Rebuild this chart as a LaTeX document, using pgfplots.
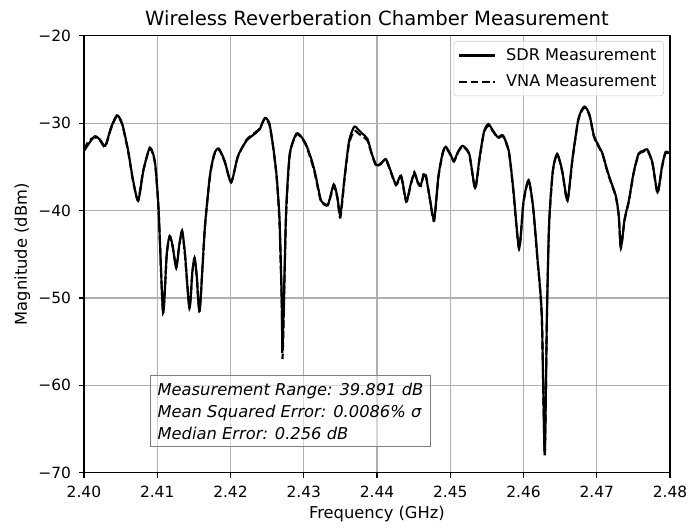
\documentclass[border=0pt]{standalone}
\usepackage{fontspec}
\setmainfont{DejaVu Sans}
\usepackage{pgfplots}
\usepackage{pgfplotstable}
\pgfplotsset{compat=1.18}

% Received power vs frequency, SDR sweep
\pgfplotstableread{
f y
2.4000 -33.2
2.4007 -32.3
2.4015 -31.5
2.4022 -31.9
2.4029 -32.6
2.4037 -30.5
2.4045 -29.1
2.4052 -30.0
2.4060 -33.0
2.4067 -36.5
2.4074 -38.9
2.4081 -35.5
2.4090 -32.8
2.4097 -34.5
2.4102 -40.0
2.4108 -51.7
2.4113 -45.0
2.4117 -42.9
2.4121 -44.0
2.4126 -46.6
2.4130 -44.0
2.4134 -42.3
2.4138 -45.0
2.4144 -51.2
2.4148 -47.0
2.4151 -45.4
2.4154 -47.5
2.4158 -51.5
2.4165 -42.0
2.4172 -36.0
2.4178 -33.5
2.4184 -32.9
2.4192 -34.3
2.4201 -36.8
2.4210 -33.8
2.4222 -32.0
2.4235 -31.1
2.4240 -30.7
2.4247 -29.4
2.4253 -30.0
2.4258 -32.5
2.4263 -36.0
2.4267 -41.0
2.4270 -50.0
2.4271 -56.0
2.4273 -50.0
2.4276 -40.0
2.4281 -33.5
2.4290 -31.2
2.4297 -31.6
2.4303 -32.4
2.4310 -34.0
2.4315 -35.5
2.4320 -37.5
2.4324 -38.9
2.4333 -39.3
2.4341 -37.0
2.4346 -38.5
2.4350 -40.5
2.4356 -36.0
2.4362 -32.0
2.4369 -30.4
2.4375 -30.8
2.4380 -31.2
2.4387 -31.8
2.4393 -33.5
2.4399 -34.8
2.4405 -34.7
2.4412 -34.1
2.4418 -35.3
2.4426 -37.0
2.4433 -36.0
2.4440 -38.9
2.4446 -37.0
2.4451 -35.8
2.4456 -36.8
2.4460 -37.0
2.4464 -35.9
2.4467 -36.2
2.4472 -38.5
2.4478 -41.0
2.4484 -36.0
2.4490 -33.3
2.4494 -32.7
2.4500 -33.5
2.4505 -34.3
2.4511 -33.2
2.4517 -32.6
2.4526 -33.5
2.4534 -37.4
2.4540 -34.0
2.4546 -31.0
2.4552 -30.1
2.4558 -30.8
2.4565 -31.6
2.4572 -31.4
2.4580 -33.2
2.4586 -37.5
2.4594 -44.3
2.4600 -39.0
2.4607 -36.5
2.4613 -39.5
2.4619 -45.4
2.4625 -52.0
2.4629 -67.9
2.4632 -52.0
2.4635 -41.5
2.4640 -35.5
2.4646 -33.5
2.4653 -35.5
2.4660 -38.8
2.4667 -34.0
2.4675 -29.5
2.4683 -28.1
2.4690 -29.0
2.4696 -31.4
2.4702 -32.5
2.4708 -33.5
2.4714 -35.3
2.4719 -36.6
2.4726 -38.3
2.4730 -40.5
2.4733 -44.2
2.4738 -41.0
2.4744 -38.8
2.4750 -35.8
2.4757 -33.5
2.4763 -33.2
2.4769 -33.0
2.4776 -34.5
2.4783 -37.9
2.4789 -35.0
2.4794 -33.3
2.4800 -33.5
}\sdrdata

% Same sweep taken with the vector network analyser
\pgfplotstableread{
f y
2.4000 -33.0
2.4007 -32.0
2.4015 -31.6
2.4022 -32.0
2.4029 -32.7
2.4037 -30.6
2.4045 -29.2
2.4052 -30.1
2.4060 -33.1
2.4067 -36.6
2.4074 -38.8
2.4081 -35.4
2.4090 -32.9
2.4097 -34.6
2.4102 -40.2
2.4108 -51.5
2.4113 -45.1
2.4117 -43.0
2.4121 -44.1
2.4126 -46.4
2.4130 -44.1
2.4134 -42.4
2.4138 -45.2
2.4144 -51.0
2.4148 -47.1
2.4151 -45.5
2.4154 -47.6
2.4158 -51.3
2.4165 -42.1
2.4172 -36.1
2.4178 -33.6
2.4184 -33.0
2.4192 -34.4
2.4201 -36.7
2.4210 -33.9
2.4222 -31.9
2.4235 -31.0
2.4240 -30.6
2.4247 -29.5
2.4253 -30.1
2.4258 -32.6
2.4263 -36.2
2.4267 -41.5
2.4270 -51.0
2.4271 -57.0
2.4273 -51.0
2.4276 -40.5
2.4281 -33.6
2.4290 -31.3
2.4297 -31.7
2.4303 -32.5
2.4310 -34.2
2.4315 -35.7
2.4320 -37.7
2.4324 -39.0
2.4333 -39.4
2.4341 -37.2
2.4346 -38.6
2.4350 -40.8
2.4356 -36.2
2.4362 -32.3
2.4369 -30.9
2.4375 -31.2
2.4380 -31.5
2.4387 -32.0
2.4393 -33.6
2.4399 -34.9
2.4405 -34.6
2.4412 -34.2
2.4418 -35.4
2.4426 -37.1
2.4433 -36.2
2.4440 -39.0
2.4446 -37.1
2.4451 -35.6
2.4456 -36.9
2.4460 -37.2
2.4464 -35.7
2.4467 -36.0
2.4472 -38.6
2.4478 -41.2
2.4484 -36.1
2.4490 -33.4
2.4494 -32.8
2.4500 -33.6
2.4505 -34.4
2.4511 -33.3
2.4517 -32.7
2.4526 -33.6
2.4534 -37.5
2.4540 -34.1
2.4546 -31.1
2.4552 -30.3
2.4558 -30.9
2.4565 -31.7
2.4572 -31.5
2.4580 -33.3
2.4586 -37.6
2.4594 -44.4
2.4600 -39.1
2.4607 -36.6
2.4613 -39.6
2.4619 -45.5
2.4625 -52.2
2.4629 -68.0
2.4632 -52.2
2.4635 -41.6
2.4640 -35.6
2.4646 -33.6
2.4653 -35.6
2.4660 -38.9
2.4667 -34.1
2.4675 -29.6
2.4683 -28.2
2.4690 -29.1
2.4696 -31.5
2.4702 -32.6
2.4708 -33.6
2.4714 -35.4
2.4719 -36.7
2.4726 -38.4
2.4730 -40.6
2.4733 -44.3
2.4738 -41.1
2.4744 -38.9
2.4750 -35.9
2.4757 -33.6
2.4763 -33.3
2.4769 -33.1
2.4776 -34.6
2.4783 -38.0
2.4789 -35.1
2.4794 -33.4
2.4800 -33.6
}\vnadata

\definecolor{gridgray}{HTML}{B0B0B0}
\definecolor{legedge}{HTML}{CCCCCC}
\definecolor{boxedge}{HTML}{808080}

\begin{document}
\begin{tikzpicture}
\begin{axis}[
  scale only axis,
  width=409.8pt, height=305.6pt,
  xmin=2.40, xmax=2.48, ymin=-70, ymax=-20,
  xtick={2.40,2.41,2.42,2.43,2.44,2.45,2.46,2.47,2.48},
  xticklabels={2.40,2.41,2.42,2.43,2.44,2.45,2.46,2.47,2.48},
  ytick={-70,-60,-50,-40,-30,-20},
  yticklabels={−70,−60,−50,−40,−30,−20},
  tick align=outside, tick pos=left,
  major tick length=3.5pt,
  every tick/.style={black, line width=0.8pt},
  grid=major,
  major grid style={gridgray, line width=0.8pt},
  axis line style={black, line width=0.8pt},
  tick label style={font=\fontsize{10.8}{12}\selectfont},
  yticklabel style={xshift=-2pt},
  xticklabel style={yshift=-2pt},
  xlabel={Frequency (GHz)}, ylabel={Magnitude (dBm)},
  label style={font=\fontsize{11.4}{13}\selectfont},
  xlabel style={at={(axis description cs:0.5,-0.1044)}, anchor=base},
  ylabel style={at={(axis description cs:-0.0973,0.5)}, anchor=base, rotate=0},
  title={Wireless Reverberation Chamber Measurement},
  title style={font=\fontsize{13.7}{16}\selectfont,
    at={(axis description cs:0.5,1.0049)}, anchor=base},
  legend cell align=left,
  legend style={font=\fontsize{11.3}{13}\selectfont, draw=legedge, rounded corners=2pt,
    fill=white, fill opacity=0.8, text opacity=1, inner sep=3pt,
    at={(0.9895,0.988)}, anchor=north east, row sep=4.5pt},
  legend image code/.code={\draw[#1] (0pt,0pt) -- (25pt,0pt); \path (30pt,0pt);},
  clip=true,
]
\addplot[black, line width=1.5pt, smooth, tension=0.4] table[x=f, y=y] {\sdrdata};
\addlegendentry{SDR Measurement}
\addplot[black, line width=1.5pt, dashed, dash pattern=on 5.5pt off 2.4pt, smooth, tension=0.4] table[x=f, y=y] {\vnadata};
\addlegendentry{VNA Measurement}

\node[anchor=north west, draw=boxedge, line width=0.8pt, fill=white, fill opacity=0.5,
      text opacity=1, align=left, inner sep=5pt,
      font=\fontsize{11.4}{15.4}\selectfont\itshape]
  at (rel axis cs:0.1126,0.2236)
  {Measurement Range: 39.891 dB\\Mean Squared Error: 0.0086\% σ\\Median Error: 0.256 dB};
\end{axis}
\pgfresetboundingbox
\path[use as bounding box]
  ([xshift=-58.7pt, yshift=-39.4pt]current axis.south west)
  rectangle ([xshift=13.3pt, yshift=25pt]current axis.north east);
\end{tikzpicture}
\end{document}
